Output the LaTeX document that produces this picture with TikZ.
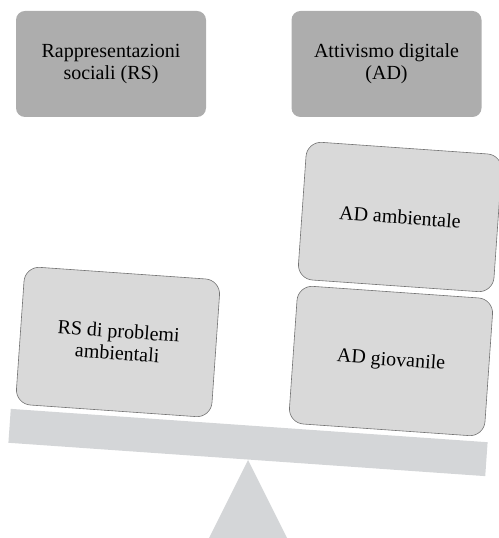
\documentclass[tikz,border=0pt]{standalone}
\usepackage{fontspec}
\setmainfont{Liberation Serif}
\definecolor{grigioscuro}{HTML}{ADADAD}
\definecolor{grigiochiaro}{HTML}{D9D9D9}
\definecolor{grigiobilancia}{HTML}{D4D6D8}

\begin{document}
\begin{tikzpicture}[x=1pt, y=1pt,
    titolo/.style={fill=grigioscuro, rounded corners=9pt, minimum width=190pt, minimum height=106pt,
      align=center, inner sep=0pt, font=\fontsize{20}{22}\selectfont},
    peso/.style={fill=grigiochiaro, draw=black!55, line width=0.6pt, rounded corners=15pt,
      minimum width=196pt, minimum height=138pt, align=center, inner sep=0pt, rotate=-4,
      font=\fontsize{20}{22}\selectfont}]
  \useasboundingbox (0,0) rectangle (498,538);

  % Titoli delle due colonne
  \node[titolo] (RS) at (111,474) {Rappresentazioni\\sociali (RS)};
  \node[titolo] (AD) at (386.5,474) {Attivismo digitale\\(AD)};

  % Fulcro e asta della bilancia (inclinata verso destra)
  \coordinate (F0) at (248,78); % punta del fulcro
  \fill[grigiobilancia] (F0) -- (287,0) -- (209,0) -- cycle;
  \node[fill=grigiobilancia, minimum width=478pt, minimum height=34pt, inner sep=0pt, rotate=-4]
    (asta) at (248,95.5) {};

  % Pesi sui due piatti
  \node[peso] (RSamb) at (118,196) {RS di problemi\\ambientali};
  \node[peso] (ADgio) at (391,177) {AD giovanile};
  \node[peso] (ADamb) at (400,321) {AD ambientale};
\end{tikzpicture}
\end{document}
